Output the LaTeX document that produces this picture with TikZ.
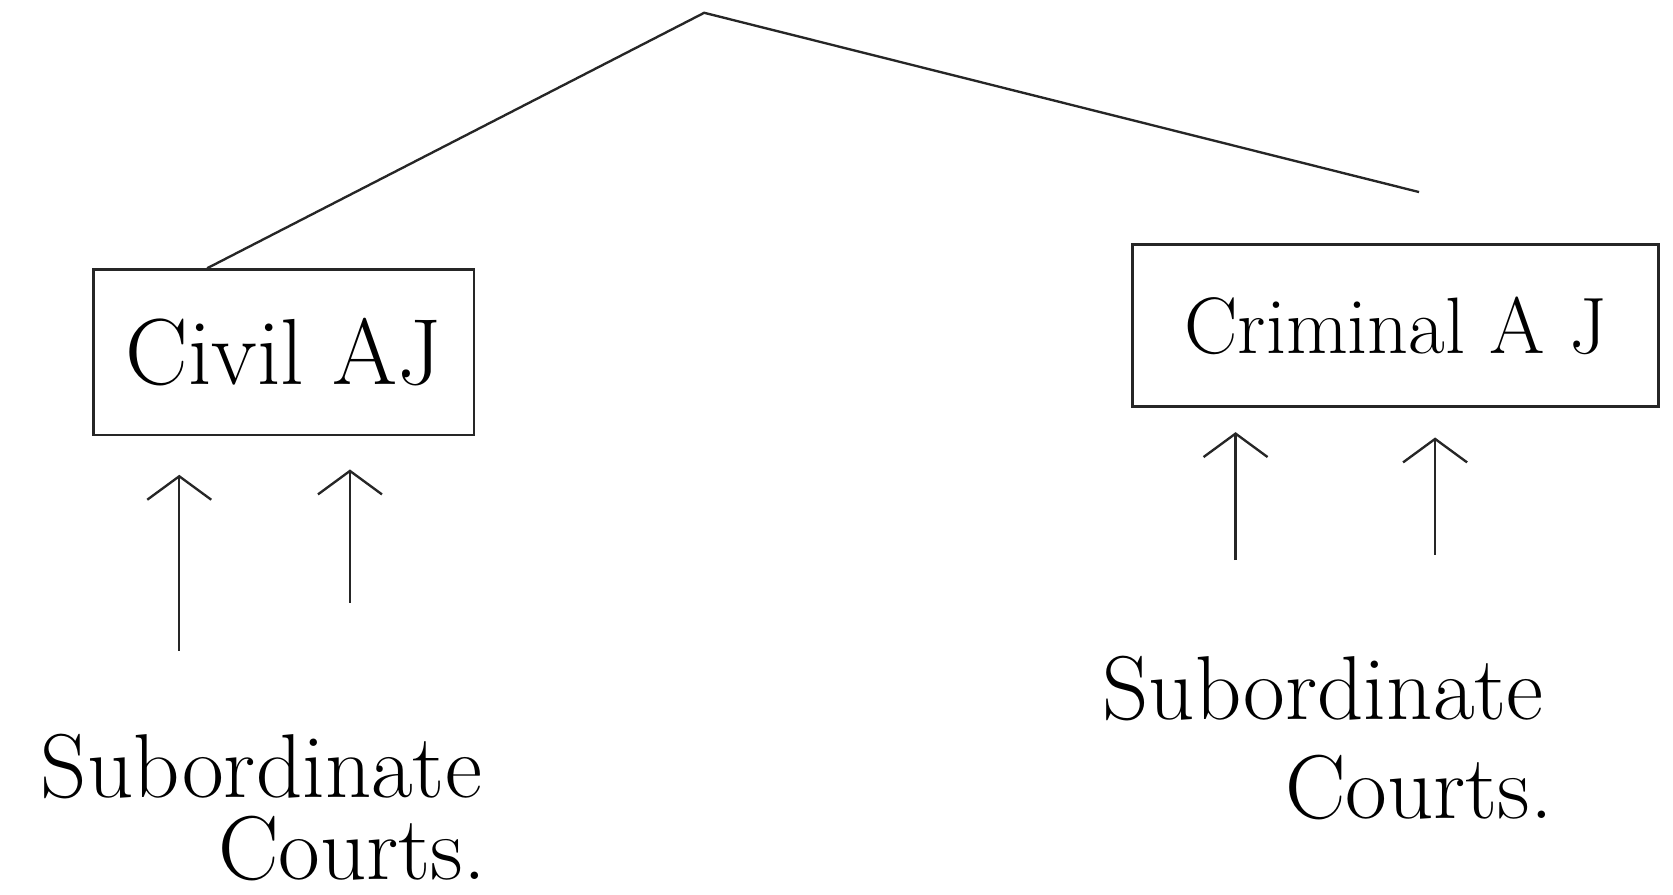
\documentclass[tikz,border=0pt]{standalone}
\usetikzlibrary{arrows.meta,calc}
\begin{document}
\begin{tikzpicture}[x=1pt,y=-1pt,
  ink/.style={line width=2.2pt,draw=black!85},
  judgebox/.style={ink,rectangle,inner sep=0pt,align=center},
  hand/.style={font=\fontsize{85}{95}\selectfont,inner sep=0pt},
  uparrow/.style={ink,-{Straight Barb[length=22pt,width=60pt,line width=2.2pt]}}]
\useasboundingbox (0,0) rectangle (1568,838);
\coordinate (apex) at (660,12);
\node[judgebox,minimum width=357pt,minimum height=155pt,font=\fontsize{88}{95}\selectfont] (civil) at (266,330) {Civil AJ};
\node[judgebox,minimum width=493pt,minimum height=152pt,font=\fontsize{75}{85}\selectfont] (criminal) at (1308,305) {Criminal A J};
\coordinate (rightend) at (1330,180);
\draw[ink] ($(civil.north west)!0.3!(civil.north east)$) -- (apex) -- (rightend);
% subordinate courts
\node[hand] (subL) at (245,718) {Subordinate};
\node[hand] (courtsL) at (330,795) {Courts.};
\node[hand] (subR) at (1240,645) {Subordinate};
\node[hand] (courtsR) at (1330,738) {Courts.};
% arrows
\coordinate (l1a) at (168,610); \coordinate (l1b) at (168,445);
\coordinate (l2a) at (328,565); \coordinate (l2b) at (328,440);
\coordinate (r1a) at (1158,525); \coordinate (r1b) at (1158,405);
\coordinate (r2a) at (1345,520); \coordinate (r2b) at (1345,410);
\draw[uparrow] (l1a) -- (l1b);
\draw[uparrow] (l2a) -- (l2b);
\draw[uparrow] (r1a) -- (r1b);
\draw[uparrow] (r2a) -- (r2b);
\end{tikzpicture}
\end{document}
